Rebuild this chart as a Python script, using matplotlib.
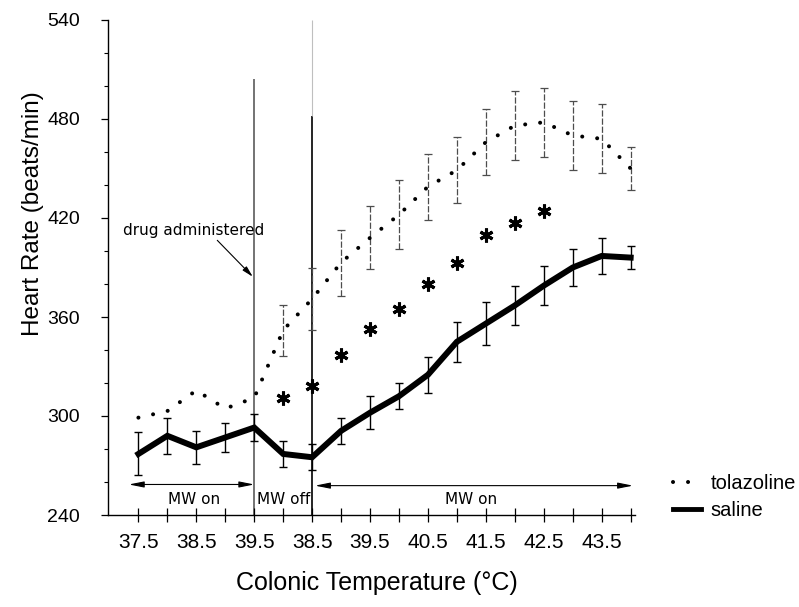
import matplotlib.pyplot as plt
from matplotlib.lines import Line2D
import numpy as np

# category positions: one per half degree, labels on every other tick
tick_labels = ["37.5", "", "38.5", "", "39.5", "", "38.5", "", "39.5", "",
               "40.5", "", "41.5", "", "42.5", "", "43.5", ""]

saline = [277, 288, 281, 287, 293, 277, 275, 291, 302, 312, 325, 345,
          356, 367, 379, 390, 397, 396]
saline_err = [13, 11, 10, 9, 8, 8, 8, 8, 10, 8, 11, 12, 13, 12, 12, 11, 11, 7]

tolazoline = [299, 303, 315.5, 304.5, 311, 352, 371, 393, 408, 422, 439, 449,
              466, 476, 478, 470, 468, 450]
tolazoline_err = [np.nan] * 5 + [15.5, 19, 20, 19, 21, 20, 20, 20, 21, 21, 21, 21, 13]

star_idx = [5, 6, 7, 8, 9, 10, 11, 12, 13, 14]
star_vals = [311, 318, 337, 353, 365, 380, 393, 410, 417, 424]

SANS = "Liberation Sans"
STROKE = "DejaVu Sans"

fig = plt.figure(figsize=(7.99, 6.07), dpi=100)
ax = fig.add_axes([108 / 799, 1 - 515 / 607, 527 / 799, 495 / 607])

x = np.arange(len(saline))

# tolazoline: dotted line + dashed grey error bars
dot_style = (0, (0.01, 3.72))
ax.plot(x, tolazoline, color="black", lw=2.9, linestyle=dot_style,
        dash_capstyle="round", zorder=3)
eb = ax.errorbar(x, tolazoline, yerr=tolazoline_err, fmt="none", ecolor="0.3",
                 elinewidth=0.9, capsize=3.2, capthick=0.9, zorder=2)
eb[2][0].set_linestyle((0, (5, 1.5)))

# saline: thick solid line with error bars
ax.errorbar(x, saline, yerr=saline_err, fmt="none", ecolor="black",
            elinewidth=1.0, capsize=3.2, capthick=1.0, zorder=2)
ax.plot(x, saline, color="black", lw=4.3, solid_joinstyle="miter", zorder=4)

# significance asterisks
ax.plot(star_idx, star_vals, linestyle="none", marker=(6, 2, 0),
        markersize=10, markeredgewidth=2.2, color="black", zorder=4)

# MW phase markers
ax.vlines(4, 240, 504, color="0.3", lw=1.1, zorder=1)
ax.vlines(6, 240, 482, color="black", lw=1.2, zorder=1)
ax.vlines(6, 482, 540, color="0.75", lw=0.8, zorder=1)

arrow_kw = dict(arrowstyle="<|-|>,head_length=0.9,head_width=0.18",
                lw=0.8, color="black", shrinkA=0, shrinkB=0)
ax.annotate("", xy=(-0.33, 258.5), xytext=(4, 258.5), arrowprops=arrow_kw)
ax.annotate("", xy=(6.1, 257.8), xytext=(17.08, 257.8), arrowprops=arrow_kw)

ax.text(1.92, 249.2, "MW on", fontsize=11, family=STROKE, ha="center", va="center")
ax.text(5.0, 249.2, "MW off", fontsize=11, family=STROKE, ha="center", va="center")
ax.text(11.49, 249.2, "MW on", fontsize=11, family=STROKE, ha="center", va="center")

ax.annotate("drug administered", xy=(3.95, 384.4), xytext=(-0.54, 412.7),
            fontsize=11, family=STROKE, ha="left", va="center",
            arrowprops=dict(arrowstyle="-|>,head_length=0.6,head_width=0.15",
                            lw=0.8, color="black", shrinkA=0, shrinkB=0,
                            relpos=(0.65, 0)))

# axes
ax.set_xlim(-1.05, 17.15)
ax.set_ylim(240, 540)
ax.set_xticks(x)
ax.set_xticklabels(tick_labels, family=SANS, fontsize=15)
ax.set_yticks(np.arange(240, 541, 60))
ax.set_yticks(np.arange(240, 541, 20), minor=True)
ax.set_yticklabels([str(v) for v in range(240, 541, 60)], family=SANS, fontsize=14)
ax.tick_params(axis="x", direction="inout", length=10, width=0.9, pad=8)
ax.tick_params(axis="y", which="major", direction="out", length=5, width=0.9, pad=15)
ax.tick_params(axis="y", which="minor", direction="out", length=3, width=0.8)
for side in ["top", "right"]:
    ax.spines[side].set_visible(False)
for side in ["left", "bottom"]:
    ax.spines[side].set_linewidth(1.0)

ax.set_xlabel("Colonic Temperature (\u00b0C)", family=SANS, fontsize=18)
ax.xaxis.set_label_coords(0.51, -0.114)
ax.set_ylabel("Heart Rate (beats/min)", family=SANS, fontsize=17.5)
ax.yaxis.set_label_coords(-0.122, 0.609)

handles = [Line2D([], [], color="black", lw=2.9, linestyle=dot_style,
                  dash_capstyle="round"),
           Line2D([], [], color="black", lw=3.5)]
ax.legend(handles, ["tolazoline", "saline"], loc="upper left",
          bbox_to_anchor=(673 / 799, 1 - 474 / 607), bbox_transform=fig.transFigure,
          frameon=False, prop={"family": SANS, "size": 14.5}, handlelength=1.4,
          handletextpad=0.45, labelspacing=0.38, borderpad=0, borderaxespad=0)

plt.savefig("out.png", dpi=100)
plt.close()
